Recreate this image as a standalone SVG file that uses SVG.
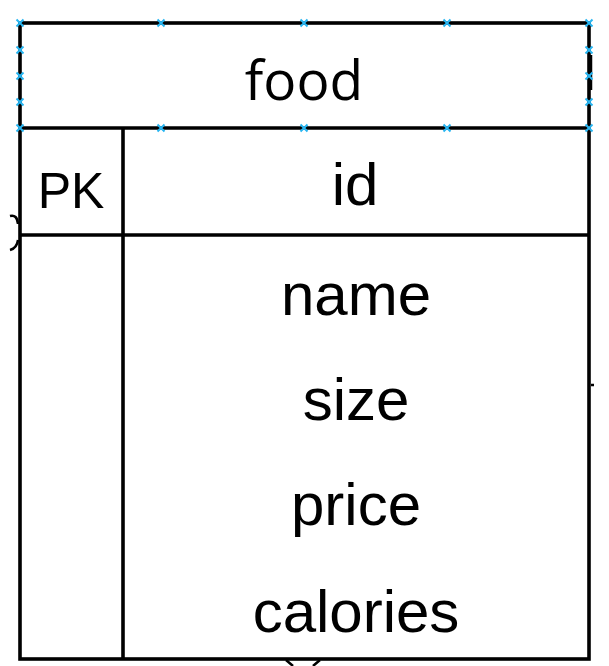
<svg xmlns="http://www.w3.org/2000/svg" width="609" height="666" viewBox="0 0 609 666">
<style>
.ln{stroke:#000;stroke-width:3.6;fill:none}
.frag{stroke:#000;stroke-width:2.5;fill:none}
.t{font-family:"Liberation Sans",Arial,sans-serif;font-size:60px;fill:#000;text-anchor:middle}
.ttl{font-family:"Open Sans","Noto Sans",sans-serif;font-size:55px;fill:#000;text-anchor:middle}
.h{stroke:#29b6f2;stroke-width:2;fill:none}
</style>
<defs>
<path id="hx" d="M-3.5,-3.5L3.5,3.5M-3.5,3.5L3.5,-3.5"/>
</defs>
<rect width="609" height="666" fill="#fff"/>
<g id="connectors">
<path class="frag" d="M10,216 Q17,214 18,224 M10,250 Q17,248 18,240"/>
<path class="frag" d="M286,660 L293,666 M320,660 L313,666"/>
<path class="frag" d="M591,55 L591,90 M591,385 L594,385"/>
</g>
<g id="food">
<rect class="ln" x="20" y="23" width="569" height="636" fill="#fff"/>
<line class="ln" x1="20" y1="128" x2="589" y2="128"/>
<line class="ln" x1="20" y1="235" x2="589" y2="235"/>
<line class="ln" x1="123" y1="128" x2="123" y2="659"/>
<text class="ttl" x="304" y="100">food</text>
<text class="t" x="71" y="208" style="font-size:50px">PK</text>
<text class="t" x="355" y="205">id</text>
<text class="t" x="356" y="315">name</text>
<text class="t" x="356" y="420">size</text>
<text class="t" x="356" y="525">price</text>
<text class="t" x="356" y="632">calories</text>
</g>
<g id="handles">
<use href="#hx" class="h" x="20" y="23"/><use href="#hx" class="h" x="161" y="23"/><use href="#hx" class="h" x="304" y="23"/><use href="#hx" class="h" x="447" y="23"/><use href="#hx" class="h" x="589" y="23"/>
<use href="#hx" class="h" x="20" y="128"/><use href="#hx" class="h" x="161" y="128"/><use href="#hx" class="h" x="304" y="128"/><use href="#hx" class="h" x="447" y="128"/><use href="#hx" class="h" x="589" y="128"/>
<use href="#hx" class="h" x="20" y="50"/><use href="#hx" class="h" x="20" y="76"/><use href="#hx" class="h" x="20" y="102"/>
<use href="#hx" class="h" x="589" y="50"/><use href="#hx" class="h" x="589" y="76"/><use href="#hx" class="h" x="589" y="102"/>
</g>
</svg>
